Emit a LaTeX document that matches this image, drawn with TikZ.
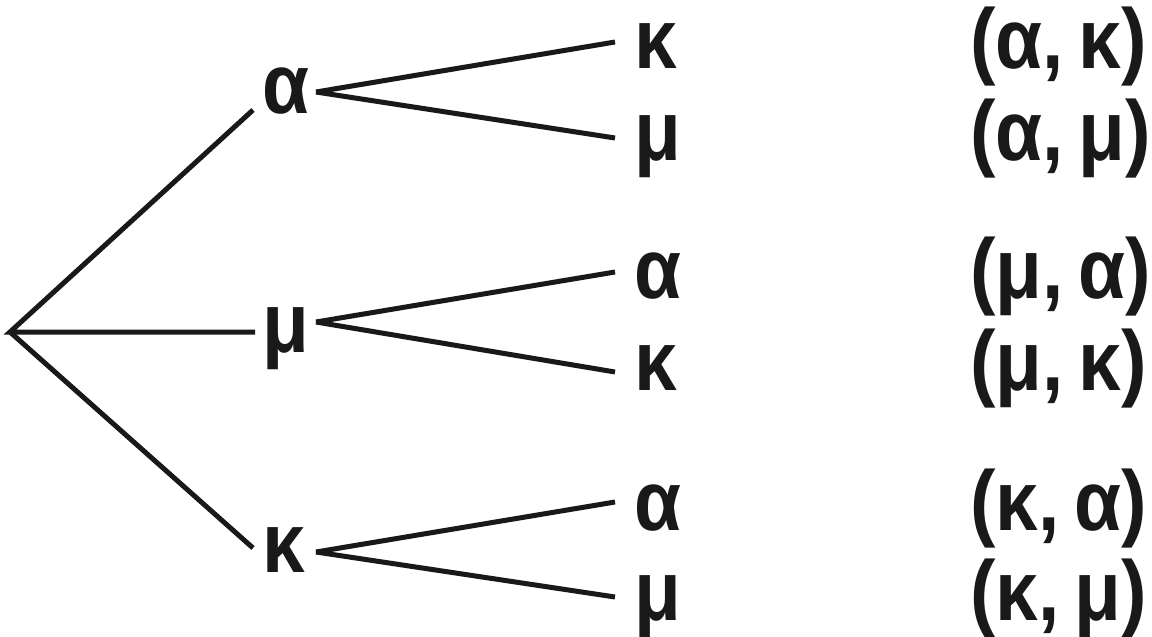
\documentclass[tikz,border=0pt]{standalone}
\usepackage{fontspec}
\newfontfamily\grk[FakeStretch=0.9]{Liberation Sans}
\newcommand{\pg}{\hspace{15pt}}
\begin{document}
\begin{tikzpicture}[x=1pt,y=-1pt,
  lbl/.style={font=\grk\fontsize{85}{85}\selectfont\bfseries, inner sep=0pt, text height=44pt, text depth=0pt, anchor=west, text=black!90},
  pair/.style={font=\grk\fontsize{85}{85}\selectfont\bfseries, inner sep=0pt, anchor=base west, text=black!90},
  ln/.style={line width=5pt, draw=black!90}]
\useasboundingbox (0,0) rectangle (1152,637);
\coordinate (root) at (10,332);
% level 1
\node[lbl] (a1) at (262,91) {α};
\node[lbl] (m1) at (262,330) {μ};
\node[lbl] (k1) at (262,550) {κ};
% leaves
\node[lbl] (k2) at (634,46) {κ};
\node[lbl] (m2) at (634,138) {μ};
\node[lbl] (a3) at (634,276) {α};
\node[lbl] (k3) at (634,368) {κ};
\node[lbl] (a4) at (634,508) {α};
\node[lbl] (m4) at (634,598) {μ};
% pairs
\node[pair] (p1) at (970,68) {(α,\pg κ)};
\node[pair] (p2) at (970,160) {(α,\pg μ)};
\node[pair] (p3) at (970,298) {(μ,\pg α)};
\node[pair] (p4) at (970,390) {(μ,\pg κ)};
\node[pair] (p5) at (970,530) {(κ,\pg α)};
\node[pair] (p6) at (970,620) {(κ,\pg μ)};
% connectors
\draw[ln, line join=miter] ([shift={(-9,19)}]a1.west) -- (root) -- ([shift={(-7,2)}]m1.west);
\draw[ln] (root) -- ([shift={(-9,-2)}]k1.west);
\draw[ln] ([shift={(54,1)}]a1.west) -- ([shift={(-19,-4)}]k2.west);
\draw[ln] ([shift={(54,1)}]a1.west) -- ([shift={(-19,0)}]m2.west);
\draw[ln] ([shift={(54,-8)}]m1.west) -- ([shift={(-19,-4)}]a3.west);
\draw[ln] ([shift={(54,-8)}]m1.west) -- ([shift={(-19,4)}]k3.west);
\draw[ln] ([shift={(54,2)}]k1.west) -- ([shift={(-19,-6)}]a4.west);
\draw[ln] ([shift={(54,2)}]k1.west) -- ([shift={(-19,-1)}]m4.west);
\end{tikzpicture}
\end{document}
